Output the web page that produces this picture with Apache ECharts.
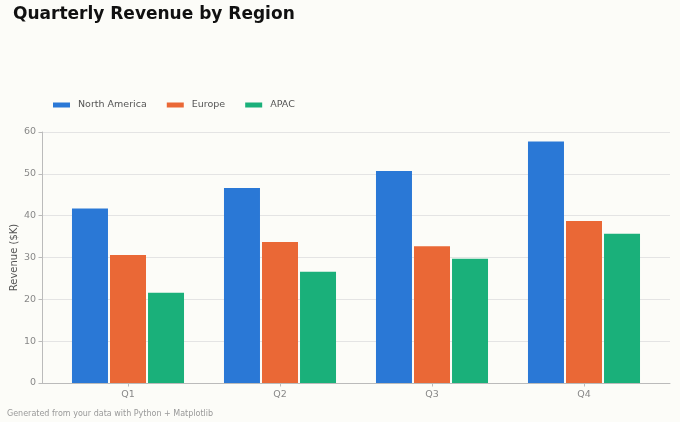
<!DOCTYPE html>
<html>
<head>
<meta charset="utf-8">
<script src="https://cdn.jsdelivr.net/npm/echarts@6/dist/echarts.min.js"></script>
<style>
  html, body { margin: 0; padding: 0; background: #fcfcf8; }
  #chart { width: 680px; height: 422px; }
</style>
</head>
<body>
<div id="chart"></div>
<script>
var quarters = ['Q1', 'Q2', 'Q3', 'Q4'];
var northAmerica = [41.7, 46.6, 50.7, 57.7];
var europe = [30.6, 33.7, 32.7, 38.7];
var apac = [21.6, 26.6, 29.7, 35.7];
var yTicks = [0, 10, 20, 30, 40, 50, 60];

var FONT = 'DejaVu Sans';
var chart = echarts.init(document.getElementById('chart'), null, { renderer: 'canvas' });

function barSeries (name, data, color) {
    return {
        name: name,
        type: 'bar',
        xAxisIndex: 1,
        yAxisIndex: 1,
        data: data,
        barWidth: 36,
        barGap: '5.6%',
        itemStyle: { color: color },
        animation: false
    };
}

chart.setOption({
    backgroundColor: '#fcfcf8',
    textStyle: { fontFamily: FONT },
    title: {
        text: 'Quarterly Revenue by Region',
        left: 13,
        top: 6,
        padding: 0,
        textStyle: { fontFamily: FONT, fontSize: 17, fontWeight: 'bold', color: '#111' }
    },
    legend: {
        left: 53,
        top: 100,
        padding: 0,
        icon: 'rect',
        itemWidth: 17,
        itemHeight: 5,
        itemGap: 20,
        textStyle: { fontFamily: FONT, fontSize: 9.5, color: '#555', padding: [0, 0, 0, 3] },
        data: ['North America', 'Europe', 'APAC']
    },
    // grid 0 carries the spines and gridlines, grid 1 the bars (matplotlib-like x margins)
    grid: [
        { left: 42, right: 10, top: 132, bottom: 39, outerBoundsMode: 'none', containLabel: false },
        { left: 52, right: 20, top: 132, bottom: 39, outerBoundsMode: 'none', containLabel: false }
    ],
    xAxis: [
        {
            gridIndex: 0, type: 'value', min: 0, max: 1,
            axisLine: { show: true, lineStyle: { color: '#bbbbbb', width: 1 } },
            axisTick: { show: false }, axisLabel: { show: false }, splitLine: { show: false }
        },
        {
            gridIndex: 1, type: 'category', data: quarters,
            axisLine: { show: false },
            axisTick: { show: true, alignWithLabel: true, length: 3.5, lineStyle: { color: '#bbbbbb' } },
            axisLabel: { color: '#888', fontSize: 9.5, fontFamily: FONT, margin: 7 }
        }
    ],
    yAxis: [
        {
            gridIndex: 0, type: 'value', min: yTicks[0], max: yTicks[yTicks.length - 1], interval: 10,
            name: 'Revenue ($K)', nameLocation: 'middle', nameGap: 23, nameMoveOverlap: false,
            nameTextStyle: { color: '#555', fontSize: 10, fontFamily: FONT },
            axisLine: { show: true, lineStyle: { color: '#bbbbbb', width: 1 } },
            axisTick: { show: true, length: 3.5, lineStyle: { color: '#bbbbbb' } },
            axisLabel: { color: '#888', fontSize: 9.5, fontFamily: FONT, margin: 6 },
            splitLine: { show: true, lineStyle: { color: '#e4e4e4', width: 1 } }
        },
        {
            gridIndex: 1, type: 'value', min: yTicks[0], max: yTicks[yTicks.length - 1], show: false
        }
    ],
    series: [
        barSeries('North America', northAmerica, '#2a78d6'),
        barSeries('Europe', europe, '#ea6836'),
        barSeries('APAC', apac, '#1ab07a')
    ],
    graphic: [{
        type: 'text',
        left: 7,
        top: 410,
        style: { text: 'Generated from your data with Python + Matplotlib', fill: '#999', font: '8px "DejaVu Sans"' }
    }],
    animation: false
});
</script>
</body>
</html>
